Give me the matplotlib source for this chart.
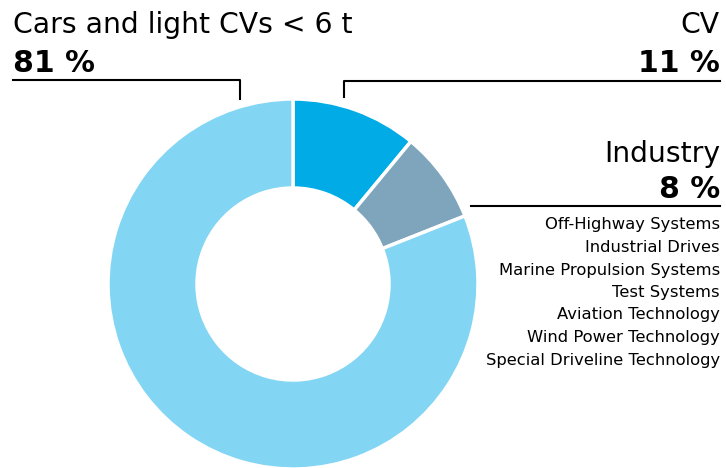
import matplotlib.pyplot as plt

segments = ["CV", "Industry", "Cars and light CVs < 6 t"]
shares = [11, 8, 81]
colors = ["#00abe6", "#7fa5bd", "#82d5f3"]
industry_units = ["Off-Highway Systems", "Industrial Drives", "Marine Propulsion Systems",
                  "Test Systems", "Aviation Technology", "Wind Power Technology",
                  "Special Driveline Technology"]

H = 468
fig = plt.figure(figsize=(7.26, 4.68), dpi=100)
ax = fig.add_axes([0, 0, 1, 1])

# donut, clockwise from 12 o'clock
ax.pie(shares, colors=colors, startangle=90, counterclock=False,
       center=(293, H - 284), radius=185,
       wedgeprops=dict(width=89, edgecolor="white", linewidth=2.5))
ax.set_xlim(0, 726)
ax.set_ylim(0, H)
ax.set_aspect("equal")
ax.axis("off")

def y(v):
    return H - v

big = 20.3
bold = 21.5
small = 11.8
lw = 1.5

# cars label (left)
ax.text(13, y(33), segments[2], fontsize=big, ha="left", va="baseline")
ax.text(13, y(72), f"{shares[2]} %", fontsize=bold, fontweight="bold", ha="left", va="baseline")
ax.plot([13, 240, 240], [y(80), y(80), y(99)], color="black", lw=lw)

# CV label (right)
ax.text(720, y(33), segments[0], fontsize=big, ha="right", va="baseline")
ax.text(720, y(72), f"{shares[0]} %", fontsize=bold, fontweight="bold", ha="right", va="baseline")
ax.plot([344, 344, 720], [y(97), y(81), y(81)], color="black", lw=lw)

# industry label
ax.text(720, y(162), segments[1], fontsize=big, ha="right", va="baseline")
ax.text(720, y(198), f"{shares[1]} %", fontsize=bold, fontweight="bold", ha="right", va="baseline")
ax.plot([471, 720], [y(206), y(206)], color="black", lw=lw)

for i, name in enumerate(industry_units):
    ax.text(720, y(225 + i * 22.5), name, fontsize=small, ha="right", va="center")

fig.savefig("out.png", dpi=100)
